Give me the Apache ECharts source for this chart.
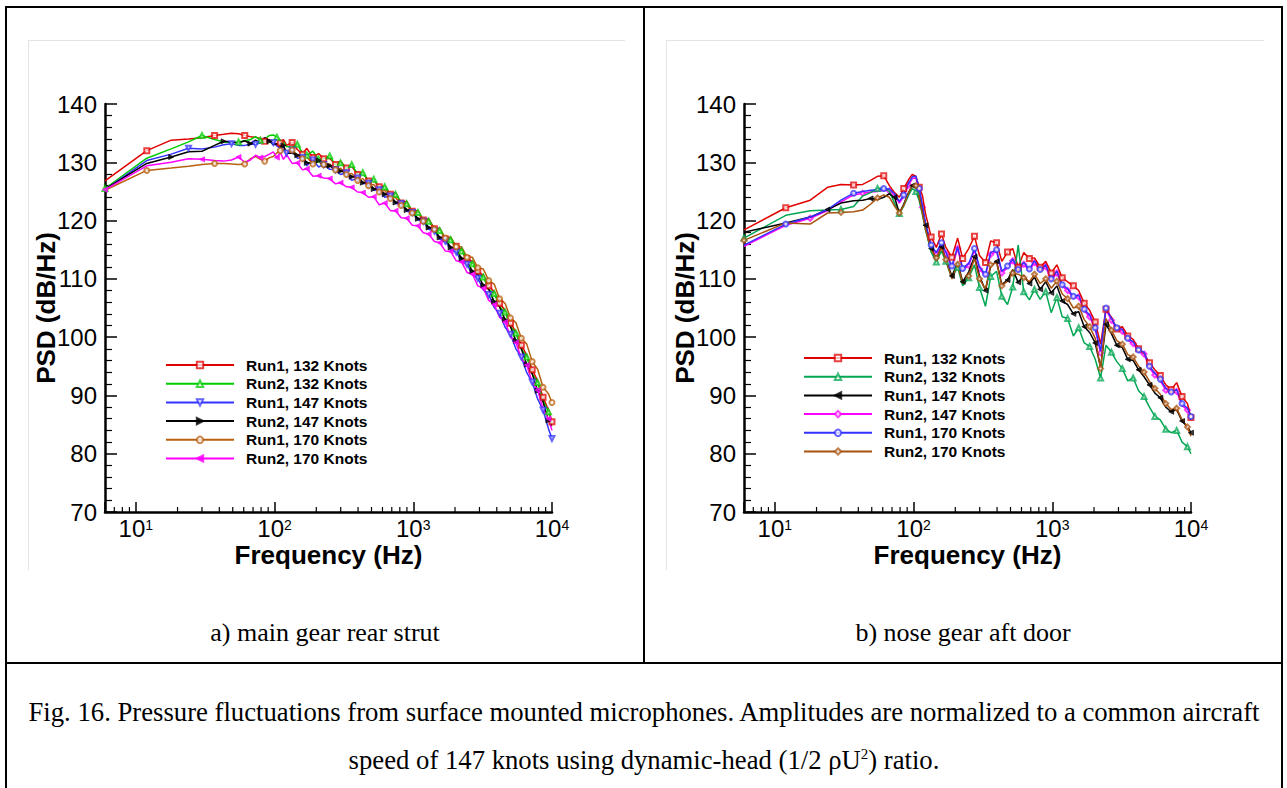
<!DOCTYPE html>
<html><head><meta charset="utf-8">
<script src="https://cdn.jsdelivr.net/npm/echarts@6/dist/echarts.min.js"></script>
<style>
html,body{margin:0;padding:0;background:#fff;}
#wrap{position:relative;width:1287px;height:788px;overflow:hidden;background:#fff;}
#chart{position:absolute;left:0;top:0;width:1287px;height:788px;}
.ln{position:absolute;background:#000;}
.gl{position:absolute;background:#e4e4e4;}
.cap{position:absolute;font-family:'Liberation Serif','Times New Roman',serif;color:#000;text-align:center;white-space:nowrap;}
</style></head><body>
<div id="wrap">
<div class="gl" style="left:28px;top:40px;width:597px;height:1px"></div>
<div class="gl" style="left:28px;top:40px;width:1px;height:530px"></div>
<div class="gl" style="left:666px;top:40px;width:598px;height:1px"></div>
<div class="gl" style="left:666px;top:40px;width:1px;height:530px"></div>
<div id="chart"></div>
<div class="ln" style="left:5px;top:6px;width:1278px;height:2px"></div>
<div class="ln" style="left:5px;top:6px;width:2px;height:782px"></div>
<div class="ln" style="left:1281px;top:6px;width:2px;height:782px"></div>
<div class="ln" style="left:643px;top:6px;width:2px;height:658px"></div>
<div class="ln" style="left:5px;top:662px;width:1278px;height:2px"></div>
<div class="cap" style="left:7px;width:636px;top:616px;font-size:26px;line-height:34px">a) main gear rear strut</div>
<div class="cap" style="left:645px;width:636px;top:616px;font-size:26px;line-height:34px">b) nose gear aft door</div>
<div class="cap" style="left:7px;width:1274px;top:688px;font-size:26.7px;line-height:48px">Fig. 16. Pressure fluctuations from surface mounted microphones. Amplitudes are normalized to a common aircraft<br>speed of 147 knots using dynamic-head (1/2 &rho;U<sup style="font-size:15px;line-height:0">2</sup>) ratio.</div>
</div>
<script>
// Frequency grid (Hz)
const freq = [6, 12, 18, 24, 30, 37, 43, 49, 55, 61,
  67, 73, 79, 85, 92, 98, 104, 110, 116, 122,
  134, 146, 159, 171, 189, 208, 226, 250, 275, 299,
  330, 360, 397, 433, 476, 519, 568, 623, 684, 745,
  818, 897, 983, 1080, 1180, 1290, 1420, 1550, 1700, 1860,
  2040, 2230, 2440, 2670, 2920, 3200, 3500, 3830, 4190, 4590,
  5020, 5490, 6010, 6580, 7200, 7880, 8620, 9430, 9990];

const legendNames = ['Run1, 132 Knots', 'Run2, 132 Knots', 'Run1, 147 Knots', 'Run2, 147 Knots', 'Run1, 170 Knots', 'Run2, 170 Knots'];
const yTicks = [70, 80, 90, 100, 110, 120, 130, 140];
const xMinorTicks = [7, 8, 9, 20, 30, 40, 50, 60, 70, 80, 90, 200, 300, 400, 500, 600, 700, 800, 900,
  2000, 3000, 4000, 5000, 6000, 7000, 8000, 9000];

// Panel a) main gear rear strut
const a_run1_132 = [126.8, 132.0, 133.8, 134.0, 134.2, 134.6, 134.8, 135.0, 134.9, 134.6,
  134.4, 134.3, 134.1, 133.6, 133.9, 133.5, 133.0, 133.3, 133.9, 132.9,
  133.4, 132.2, 131.4, 132.4, 130.8, 131.5, 130.6, 130.7, 129.6, 130.2,
  129.0, 129.3, 127.9, 128.2, 126.8, 126.9, 125.8, 125.9, 124.5, 124.8,
  123.0, 123.3, 121.6, 121.7, 120.1, 120.3, 118.6, 118.7, 116.9, 117.0,
  115.6, 115.1, 113.5, 113.0, 111.3, 110.6, 108.8, 107.8, 105.8, 104.6,
  102.4, 100.9, 98.6, 96.9, 94.4, 92.5, 89.7, 87.5, 85.5];
const a_run2_132 = [125.5, 130.7, 132.3, 133.5, 134.6, 133.9, 133.5, 133.4, 133.5, 133.7,
  133.9, 134.4, 133.8, 134.0, 134.6, 134.7, 134.3, 133.8, 133.5, 132.7,
  132.6, 133.1, 131.6, 131.2, 131.9, 130.5, 130.6, 131.1, 129.5, 129.9,
  128.8, 129.6, 128.0, 128.2, 126.7, 127.1, 125.7, 125.8, 124.3, 124.5,
  123.2, 122.9, 121.7, 121.4, 120.2, 119.9, 118.6, 118.3, 117.0, 116.7,
  115.2, 114.8, 113.2, 112.6, 110.9, 110.3, 108.2, 107.5, 105.2, 104.3,
  101.8, 100.7, 98.0, 96.6, 93.7, 92.2, 89.1, 87.2, 85.2];
const a_run1_147 = [125.3, 130.3, 131.4, 132.4, 132.3, 132.6, 133.0, 133.2, 132.9, 132.9,
  133.1, 133.1, 133.3, 134.2, 133.6, 133.4, 132.8, 132.4, 132.6, 131.6,
  132.1, 130.7, 130.8, 129.4, 130.4, 129.2, 129.6, 128.8, 128.7, 127.9,
  128.2, 126.9, 127.3, 126.3, 126.4, 125.2, 125.3, 124.0, 124.2, 122.9,
  122.9, 121.6, 121.4, 120.1, 119.9, 118.5, 118.2, 116.8, 116.5, 115.0,
  114.6, 113.0, 112.5, 110.7, 110.1, 108.1, 107.3, 105.1, 104.1, 101.7,
  100.5, 98.0, 96.6, 93.9, 92.3, 89.4, 87.5, 84.3, 82.6];
const a_run2_147 = [125.4, 129.8, 130.9, 131.8, 131.9, 132.9, 133.6, 133.5, 133.3, 133.7,
  133.2, 133.8, 133.4, 134.2, 133.6, 133.0, 133.2, 132.7, 132.9, 131.5,
  131.6, 131.2, 131.0, 129.9, 129.8, 130.3, 129.2, 129.4, 128.6, 128.5,
  128.2, 127.5, 127.5, 126.5, 126.5, 125.4, 125.5, 124.5, 124.4, 123.1,
  123.1, 121.8, 121.6, 120.3, 120.2, 118.8, 118.5, 117.1, 116.9, 115.4,
  115.1, 113.5, 113.0, 111.3, 110.7, 108.9, 108.2, 106.1, 105.2, 103.0,
  101.8, 99.4, 98.0, 95.3, 93.7, 90.8, 88.9, 85.7, 84.8];
const a_run1_170 = [125.2, 128.6, 129.0, 129.3, 129.6, 129.8, 129.8, 129.7, 129.6, 129.7,
  130.6, 131.0, 130.5, 130.2, 130.8, 131.0, 131.6, 132.0, 132.1, 131.8,
  132.1, 131.2, 130.6, 130.9, 129.7, 130.4, 129.6, 129.7, 128.7, 129.0,
  127.9, 128.1, 126.9, 127.2, 126.0, 126.2, 124.9, 125.2, 123.8, 124.0,
  122.6, 122.8, 121.3, 121.4, 119.9, 120.0, 118.5, 118.6, 117.0, 117.2,
  115.5, 115.5, 113.7, 113.7, 111.9, 111.7, 109.7, 109.1, 106.6, 105.8,
  103.3, 102.5, 99.8, 98.8, 95.8, 94.5, 91.4, 90.3, 88.8];
const a_run2_170 = [125.3, 129.4, 130.0, 130.6, 130.5, 130.3, 130.2, 130.4, 130.9, 130.0,
  130.4, 131.2, 130.8, 131.0, 131.4, 131.8, 130.8, 131.7, 130.5, 131.3,
  129.8, 129.9, 128.7, 128.9, 127.6, 127.7, 127.3, 127.2, 126.3, 126.5,
  125.8, 125.7, 124.9, 124.8, 124.0, 124.1, 122.7, 123.0, 121.7, 121.7,
  120.5, 120.4, 119.2, 119.1, 117.9, 117.7, 116.4, 116.2, 114.8, 114.7,
  113.1, 112.9, 111.1, 110.8, 108.8, 108.4, 106.3, 105.6, 103.4, 102.6,
  100.1, 99.1, 96.4, 95.2, 92.3, 90.9, 87.7, 86.0, 84.0];

// Panel b) nose gear aft door
const b_run1_132 = [118.4, 122.2, 123.5, 125.7, 126.2, 126.1, 126.2, 126.9, 127.6, 127.7,
  126.0, 124.8, 124.0, 125.5, 127.0, 127.9, 127.6, 125.7, 124.3, 121.2,
  117.2, 115.4, 117.7, 115.4, 113.7, 117.0, 113.5, 115.2, 117.3, 114.0,
  112.8, 116.5, 116.2, 113.0, 114.6, 115.2, 112.0, 114.5, 113.5, 113.6,
  112.0, 113.0, 111.0, 112.4, 110.2, 109.5, 108.8, 108.0, 105.8, 104.6,
  102.6, 98.8, 104.8, 103.4, 101.4, 101.8, 100.2, 99.6, 98.0, 97.2,
  95.6, 94.4, 93.4, 91.8, 91.0, 92.2, 89.8, 88.6, 86.2];
const b_run2_132 = [117.0, 120.9, 121.7, 121.8, 121.9, 122.4, 124.2, 124.8, 125.5, 125.6,
  125.0, 123.0, 121.2, 122.5, 124.3, 125.5, 125.0, 123.4, 121.0, 118.4,
  114.6, 112.9, 114.8, 113.0, 110.1, 112.0, 108.8, 110.2, 112.4, 108.5,
  105.3, 110.4, 111.3, 107.0, 105.6, 108.6, 115.8, 107.8, 106.4, 108.2,
  106.5, 107.8, 104.2, 106.8, 103.5, 103.2, 100.2, 101.6, 99.0, 98.4,
  96.2, 93.0, 98.6, 97.4, 95.8, 94.6, 92.5, 93.0, 90.8, 89.8,
  88.0, 86.4, 85.8, 84.2, 83.6, 84.0, 82.0, 81.2, 80.0];
const b_run1_147 = [118.0, 119.6, 120.6, 121.9, 123.0, 123.4, 123.5, 123.8, 123.6, 124.0,
  124.6, 124.0, 121.3, 122.8, 124.8, 126.0, 125.9, 124.1, 121.6, 119.2,
  115.2, 113.4, 115.5, 113.3, 110.5, 112.8, 109.5, 111.2, 113.8, 110.5,
  108.0, 112.2, 113.0, 109.0, 109.8, 111.6, 109.4, 110.6, 109.2, 110.3,
  108.2, 109.5, 107.6, 108.8, 106.2, 105.6, 104.0, 104.4, 101.8, 100.8,
  99.0, 94.8, 102.2, 100.6, 98.6, 98.2, 96.2, 96.0, 94.4, 93.2,
  91.8, 90.4, 89.6, 88.0, 87.2, 87.6, 85.6, 84.6, 83.6];
const b_run2_147 = [115.6, 119.2, 120.4, 121.7, 123.2, 124.4, 124.7, 124.9, 125.0, 125.2,
  125.1, 124.3, 123.0, 124.1, 126.1, 127.2, 127.3, 125.2, 122.3, 119.3,
  115.5, 114.2, 115.9, 114.3, 111.9, 115.2, 111.5, 112.3, 114.9, 111.7,
  110.5, 114.2, 114.7, 111.0, 111.9, 113.1, 111.3, 112.5, 111.4, 112.8,
  111.3, 112.1, 109.7, 111.0, 108.7, 108.0, 106.7, 106.9, 104.5, 103.5,
  101.3, 97.3, 104.7, 102.9, 101.3, 101.0, 99.5, 98.9, 97.5, 97.1,
  94.7, 93.5, 92.5, 90.9, 90.3, 90.7, 88.3, 87.5, 86.1];
const b_run1_170 = [115.8, 119.4, 120.6, 121.9, 123.5, 124.7, 125.0, 125.2, 125.3, 125.5,
  125.4, 124.6, 123.3, 124.4, 126.4, 127.5, 127.6, 125.5, 122.6, 119.6,
  115.8, 114.5, 116.2, 114.6, 112.2, 115.5, 111.8, 112.6, 115.2, 112.0,
  110.8, 114.5, 115.0, 111.3, 112.2, 113.4, 111.6, 112.8, 111.7, 113.1,
  111.6, 112.4, 110.0, 111.3, 109.0, 108.3, 107.0, 107.2, 104.8, 103.8,
  101.6, 97.6, 105.0, 103.2, 101.6, 101.3, 99.8, 99.2, 97.8, 97.4,
  95.0, 93.8, 92.8, 91.2, 90.6, 91.0, 88.6, 87.8, 86.4];
const b_run2_170 = [116.6, 119.6, 119.4, 121.3, 121.4, 121.5, 121.8, 122.8, 123.9, 124.4,
  124.0, 122.5, 121.3, 122.6, 124.7, 126.1, 126.0, 124.0, 121.2, 118.5,
  115.0, 113.6, 115.3, 113.3, 110.0, 112.5, 109.2, 110.5, 113.5, 110.0,
  108.2, 112.4, 112.8, 108.8, 109.6, 111.0, 110.8, 110.2, 109.5, 110.8,
  109.2, 110.0, 108.4, 109.6, 107.4, 106.6, 105.0, 105.3, 103.0, 101.8,
  99.8, 94.6, 103.2, 101.2, 99.4, 98.8, 97.0, 96.6, 95.0, 94.0,
  92.4, 91.2, 90.2, 88.6, 87.6, 87.8, 85.8, 84.6, 83.0];

const panelA = [
  {arr: a_run1_132, color: '#e00000', symbol: 'emptyRect', rot: 0, z: 2},
  {arr: a_run2_132, color: '#00cc00', symbol: 'emptyTriangle', rot: 0, z: 2},
  {arr: a_run1_147, color: '#3333ff', symbol: 'emptyTriangle', rot: 180, z: 2},
  {arr: a_run2_147, color: '#000000', symbol: 'triangle', rot: -90, z: 2},
  {arr: a_run1_170, color: '#b8600f', symbol: 'emptyCircle', rot: 0, z: 2},
  {arr: a_run2_170, color: '#ff00ff', symbol: 'triangle', rot: 90, z: 2}
];
const panelB = [
  {arr: b_run1_132, color: '#e00000', symbol: 'emptyRect', rot: 0, z: 2},
  {arr: b_run2_132, color: '#00a651', symbol: 'emptyTriangle', rot: 0, z: 2},
  {arr: b_run1_147, color: '#000000', symbol: 'triangle', rot: 90, z: 2},
  {arr: b_run2_147, color: '#ff00ff', symbol: 'emptyDiamond', rot: 0, z: 1},
  {arr: b_run1_170, color: '#3333ff', symbol: 'emptyCircle', rot: 0, z: 2},
  {arr: b_run2_170, color: '#a8520e', symbol: 'emptyDiamond', rot: 0, z: 2}
];

const FONT = "'Liberation Sans', Arial, Helvetica, sans-serif";
const isPow10 = v => Math.abs(Math.log10(v) - Math.round(Math.log10(v))) < 1e-6;

function xAxisCfg(gi) {
  return {
    type: 'log', logBase: 10, gridIndex: gi, min: 6, max: 10000,
    name: 'Frequency (Hz)', nameLocation: 'middle', nameGap: 31, nameMoveOverlap: false,
    nameTextStyle: {fontFamily: FONT, fontWeight: 'bold', fontSize: 26, color: '#000', lineHeight: 24},
    axisLine: {show: true, onZero: false, lineStyle: {color: '#000', width: 2.5}},
    axisTick: {show: true, inside: true, length: 10, lineStyle: {color: '#000', width: 1.5}},
    minorTick: {show: false},
    splitLine: {show: false},
    axisLabel: {
      margin: 6, showMinLabel: true, showMaxLabel: true, color: '#000', fontFamily: FONT,
      formatter: v => isPow10(v) ? '{b|10}{s|' + Math.round(Math.log10(v)) + '}' : '',
      rich: {
        b: {fontSize: 24, fontFamily: FONT, color: '#000', lineHeight: 21},
        s: {fontSize: 14, fontFamily: FONT, color: '#000', verticalAlign: 'top', lineHeight: 12}
      }
    }
  };
}
function yAxisCfg(gi) {
  return {
    type: 'value', gridIndex: gi, min: 70, max: 140, interval: 10,
    name: 'PSD (dB/Hz)', nameLocation: 'middle', nameGap: 46, nameRotate: 90, nameMoveOverlap: false,
    nameTextStyle: {fontFamily: FONT, fontWeight: 'bold', fontSize: 26, color: '#000'},
    axisLine: {show: true, lineStyle: {color: '#000', width: 2.5}},
    axisTick: {show: true, inside: true, length: 12, lineStyle: {color: '#000', width: 1.5}},
    minorTick: {show: true, splitNumber: 5, length: 7, lineStyle: {color: '#000', width: 1.2}},
    splitLine: {show: false},
    axisLabel: {margin: 8, fontSize: 24, fontFamily: FONT, color: '#000',
      formatter: v => yTicks.includes(v) ? String(v) : ''}
  };
}

const series = [];
function addPanel(defs, gi, prefix) {
  defs.forEach((d, k) => {
    series.push({
      type: 'line', name: prefix + legendNames[k], xAxisIndex: gi, yAxisIndex: gi, z: d.z,
      data: freq.map((f, i) => [f, d.arr[i]]),
      symbol: d.symbol, symbolRotate: d.rot,
      symbolSize: (v, p) => {
        const i = p.dataIndex;
        if (i < 20) return ((i + k) % 4 === 1) ? 5 : 0;
        return ((i + k) % 2 === 0) ? 5 : 0;
      },
      showSymbol: true, showAllSymbol: true,
      color: d.color,
      lineStyle: {color: d.color, width: 1.5},
      itemStyle: {color: d.color, borderColor: d.color, borderWidth: 1, opacity: 0.75},
      animation: false, silent: true, clip: true
    });
  });
  series.push({
    type: 'custom', name: prefix + 'minor', xAxisIndex: gi, yAxisIndex: gi, silent: true,
    animation: false, clip: false,
    data: xMinorTicks.map(v => [v, 70]),
    encode: {x: 0, y: 1},
    renderItem: (params, api) => {
      const p = api.coord([api.value(0), api.value(1)]);
      return {type: 'line', shape: {x1: p[0], y1: p[1], x2: p[0], y2: p[1] - 5},
        style: {stroke: '#000', lineWidth: 1.2}};
    }
  });
}
addPanel(panelA, 0, 'a:');
addPanel(panelB, 1, 'b:');

function legendCfg(prefix, left, top) {
  return {
    orient: 'vertical', left: left, top: top, itemWidth: 68, itemHeight: 8, itemGap: 2.7,
    data: legendNames.map(n => prefix + n),
    formatter: n => n.slice(2),
    selectedMode: false,
    textStyle: {fontFamily: FONT, fontWeight: 'bold', fontSize: 15.5, lineHeight: 16, color: '#000', padding: [0, 0, 0, 7]}
  };
}

const chart = echarts.init(document.getElementById('chart'), null, {renderer: 'svg', width: 1287, height: 788});
chart.setOption({
  backgroundColor: 'transparent',
  animation: false,
  grid: [
    {left: 105, top: 104, width: 447, height: 408},
    {left: 744, top: 104, width: 447, height: 408}
  ],
  xAxis: [xAxisCfg(0), xAxisCfg(1)],
  yAxis: [yAxisCfg(0), yAxisCfg(1)],
  legend: [legendCfg('a:', 160, 352), legendCfg('b:', 798, 345)],
  series: series
});
</script>
</body></html>
